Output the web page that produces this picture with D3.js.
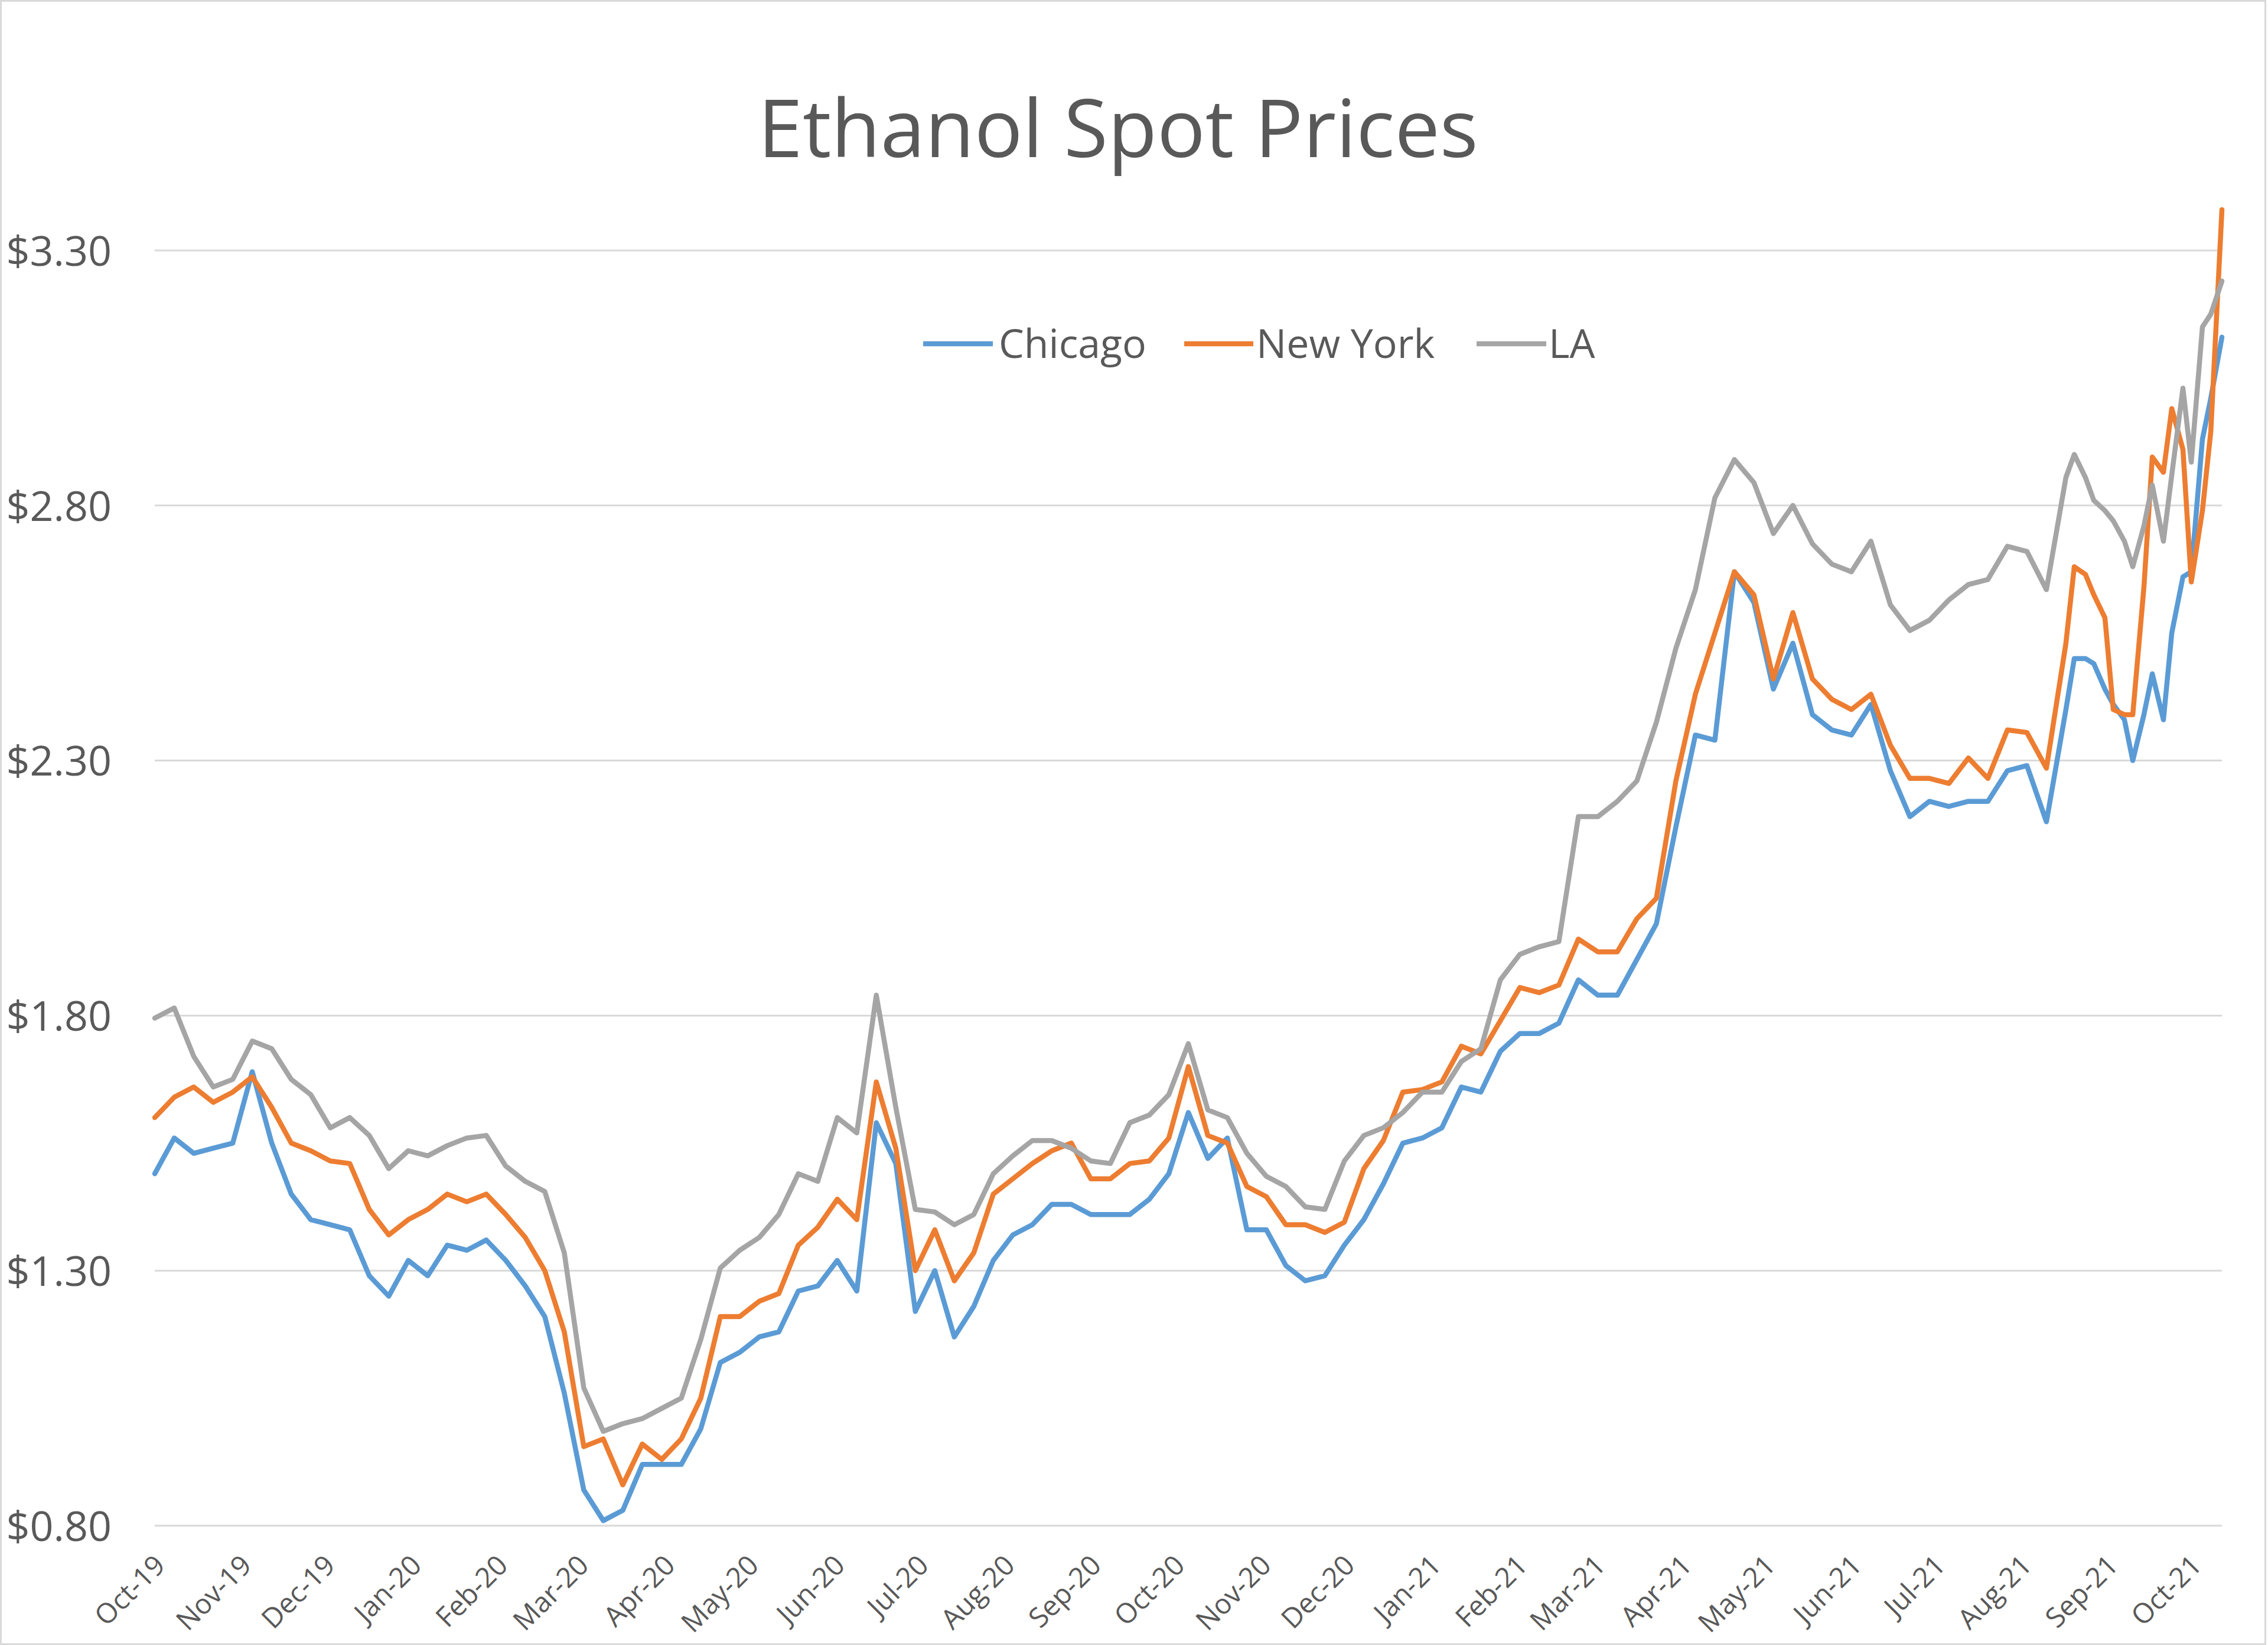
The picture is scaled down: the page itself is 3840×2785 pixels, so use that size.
<!DOCTYPE html>
<html>
<head>
<meta charset="utf-8">
<script src="https://cdn.jsdelivr.net/npm/d3@7"></script>
<style>
  html, body { margin: 0; padding: 0; background: #ffffff; }
  svg { display: block; }
  text { font-family: "Open Sans", "Noto Sans", sans-serif; fill: #595959; }
</style>
</head>
<body>
<svg id="chart" width="3840" height="2785"></svg>
<script>
// ---------- DATA ----------
const dates = [
  "2019-10-01","2019-10-08","2019-10-15","2019-10-22","2019-10-29","2019-11-05","2019-11-12","2019-11-19","2019-11-26","2019-12-03",
  "2019-12-10","2019-12-17","2019-12-24","2019-12-31","2020-01-07","2020-01-14","2020-01-21","2020-01-28","2020-02-04","2020-02-11",
  "2020-02-18","2020-02-25","2020-03-03","2020-03-10","2020-03-17","2020-03-24","2020-03-31","2020-04-07","2020-04-14","2020-04-21",
  "2020-04-28","2020-05-05","2020-05-12","2020-05-19","2020-05-26","2020-06-02","2020-06-09","2020-06-16","2020-06-23","2020-06-30",
  "2020-07-07","2020-07-14","2020-07-21","2020-07-28","2020-08-04","2020-08-11","2020-08-18","2020-08-25","2020-09-01","2020-09-08",
  "2020-09-15","2020-09-22","2020-09-29","2020-10-06","2020-10-13","2020-10-20","2020-10-27","2020-11-03","2020-11-10","2020-11-17",
  "2020-11-24","2020-12-01","2020-12-08","2020-12-15","2020-12-22","2020-12-29","2021-01-05","2021-01-12","2021-01-19","2021-01-26",
  "2021-02-02","2021-02-09","2021-02-16","2021-02-23","2021-03-02","2021-03-09","2021-03-16","2021-03-23","2021-03-30","2021-04-06",
  "2021-04-13","2021-04-20","2021-04-27","2021-05-04","2021-05-11","2021-05-18","2021-05-25","2021-06-01","2021-06-08","2021-06-15",
  "2021-06-22","2021-06-29","2021-07-06","2021-07-13","2021-07-20","2021-07-27","2021-08-03","2021-08-10",
  "2021-08-17","2021-08-20","2021-08-24","2021-08-27","2021-08-31","2021-09-03","2021-09-07","2021-09-10","2021-09-14","2021-09-17",
  "2021-09-21","2021-09-24","2021-09-28","2021-10-01","2021-10-05","2021-10-08","2021-10-12"
];

const chicago = [
  1.49,1.56,1.53,1.54,1.55,1.69,1.55,1.45,1.40,1.39,
  1.38,1.29,1.25,1.32,1.29,1.35,1.34,1.36,1.32,1.27,
  1.21,1.06,0.87,0.81,0.83,0.92,0.92,0.92,0.99,1.12,
  1.14,1.17,1.18,1.26,1.27,1.32,1.26,1.59,1.51,1.22,
  1.30,1.17,1.23,1.32,1.37,1.39,1.43,1.43,1.41,1.41,
  1.41,1.44,1.49,1.61,1.52,1.56,1.38,1.38,1.31,1.28,
  1.29,1.35,1.40,1.47,1.55,1.56,1.58,1.66,1.65,1.73,
  1.765,1.765,1.785,1.87,1.84,1.84,1.91,1.98,2.17,2.35,
  2.34,2.67,2.61,2.44,2.53,2.39,2.36,2.35,2.41,2.28,
  2.19,2.22,2.21,2.22,2.22,2.28,2.29,2.18,
  2.40,2.50,2.50,2.49,2.44,2.41,2.38,2.30,2.39,2.47,2.38,2.55,2.66,2.67,2.93,3.01,3.13
];

const newYork = [
  1.60,1.64,1.66,1.63,1.65,1.68,1.62,1.55,1.535,1.515,
  1.51,1.42,1.37,1.40,1.42,1.45,1.435,1.45,1.41,1.365,
  1.30,1.18,0.955,0.97,0.88,0.96,0.93,0.97,1.05,1.21,
  1.21,1.24,1.255,1.35,1.385,1.44,1.40,1.67,1.54,1.30,
  1.38,1.28,1.335,1.45,1.48,1.51,1.535,1.55,1.48,1.48,
  1.51,1.515,1.56,1.70,1.565,1.55,1.465,1.445,1.39,1.39,
  1.375,1.395,1.50,1.555,1.65,1.655,1.67,1.74,1.725,1.79,
  1.855,1.845,1.86,1.95,1.925,1.925,1.99,2.03,2.26,2.43,
  2.55,2.67,2.625,2.46,2.59,2.46,2.42,2.40,2.43,2.33,
  2.265,2.265,2.255,2.305,2.265,2.36,2.355,2.285,
  2.53,2.68,2.665,2.625,2.58,2.40,2.39,2.39,2.64,2.895,2.865,2.99,2.91,2.65,2.79,2.945,3.38
];

const la = [
  1.795,1.815,1.72,1.66,1.675,1.75,1.735,1.675,1.645,1.58,
  1.60,1.565,1.50,1.535,1.525,1.545,1.56,1.565,1.505,1.475,
  1.455,1.335,1.07,0.985,1.00,1.01,1.03,1.05,1.165,1.305,
  1.34,1.365,1.41,1.49,1.475,1.60,1.57,1.84,1.62,1.42,
  1.415,1.39,1.41,1.49,1.525,1.555,1.555,1.54,1.515,1.51,
  1.59,1.605,1.645,1.745,1.615,1.60,1.53,1.485,1.465,1.425,
  1.42,1.515,1.565,1.58,1.61,1.65,1.65,1.71,1.735,1.87,
  1.92,1.935,1.945,2.19,2.19,2.22,2.26,2.375,2.52,2.635,
  2.815,2.89,2.845,2.745,2.80,2.725,2.685,2.67,2.73,2.605,
  2.555,2.575,2.615,2.645,2.655,2.72,2.71,2.635,
  2.855,2.90,2.855,2.81,2.79,2.77,2.73,2.68,2.76,2.84,2.73,2.86,3.03,2.885,3.15,3.175,3.24
];

const seriesNames = ["Chicago", "New York", "LA"];
const yTickValues = [0.80, 1.30, 1.80, 2.30, 2.80, 3.30];
const titleText = "Ethanol Spot Prices";

// ---------- STYLE / LAYOUT ----------
const W = 3840, H = 2785;
const plot = { left: 262, right: 3762, top: 424, bottom: 2583 };
const colors = ["#5B9BD5", "#ED7D31", "#A5A5A5"];

const parse = d3.timeParse("%Y-%m-%d");
const dateObjs = dates.map(parse);
const seriesValues = [chicago, newYork, la];

const svg = d3.select("#chart");

// chart border
svg.append("rect")
  .attr("x", 1.5).attr("y", 1.5)
  .attr("width", W - 6).attr("height", H - 3)
  .attr("fill", "#ffffff")
  .attr("stroke", "#D9D9D9").attr("stroke-width", 3);

const x = d3.scaleTime()
  .domain([dateObjs[0], dateObjs[dateObjs.length - 1]])
  .range([plot.left, plot.right]);

const y = d3.scaleLinear()
  .domain([0.8, 3.3])
  .range([plot.bottom, plot.top]);

// gridlines
svg.append("g")
  .selectAll("line")
  .data(yTickValues)
  .join("line")
  .attr("x1", plot.left).attr("x2", plot.right)
  .attr("y1", d => y(d)).attr("y2", d => y(d))
  .attr("stroke", "#D9D9D9").attr("stroke-width", 3);

// y axis labels
const yAxis = d3.axisLeft(y)
  .tickValues(yTickValues)
  .tickFormat(d3.format("$.2f"))
  .tickSize(0)
  .tickPadding(73);
const gy = svg.append("g").attr("transform", `translate(${plot.left},0)`).call(yAxis);
gy.select(".domain").remove();
gy.selectAll("text")
  .attr("font-family", "'Open Sans', 'Noto Sans', sans-serif")
  .attr("font-size", 70)
  .attr("fill", "#595959")
  .attr("dy", "0.36em");

// x axis labels
const xAxis = d3.axisBottom(x)
  .ticks(d3.timeMonth.every(1))
  .tickFormat(d3.timeFormat("%b-%y"))
  .tickSize(0);
const gx = svg.append("g").attr("transform", `translate(0,${plot.bottom})`).call(xAxis);
gx.select(".domain").remove();
gx.selectAll("text")
  .attr("font-family", "'Open Sans', 'Noto Sans', sans-serif")
  .attr("font-size", 47)
  .attr("fill", "#595959")
  .attr("x", 0).attr("y", 0)
  .attr("dy", "0.72em")
  .attr("text-anchor", "end")
  .attr("transform", "translate(-4,46) rotate(-45)");

// lines
const line = d3.line()
  .x((d, i) => x(dateObjs[i]))
  .y(d => y(d));

seriesValues.forEach((vals, k) => {
  svg.append("path")
    .datum(vals)
    .attr("d", line)
    .attr("fill", "none")
    .attr("stroke", colors[k])
    .attr("stroke-width", 8.5)
    .attr("stroke-linejoin", "round")
    .attr("stroke-linecap", "round");
});

// title
svg.append("text")
  .attr("x", 1893).attr("y", 266)
  .attr("text-anchor", "middle")
  .attr("font-size", 136)
  .attr("fill", "#595959")
  .text(titleText);

// legend
const legendItems = [
  { x1: 1563, x2: 1681, tx: 1691 },
  { x1: 2005, x2: 2122, tx: 2127 },
  { x1: 2500, x2: 2618, tx: 2622 }
];
const legendY = 582;
const lg = svg.append("g");
legendItems.forEach((it, k) => {
  lg.append("line")
    .attr("x1", it.x1).attr("x2", it.x2)
    .attr("y1", legendY).attr("y2", legendY)
    .attr("stroke", colors[k]).attr("stroke-width", 8.5);
  lg.append("text")
    .attr("x", it.tx).attr("y", legendY)
    .attr("dy", "0.36em")
    .attr("font-size", 68)
    .attr("fill", "#595959")
    .text(seriesNames[k]);
});
</script>
</body>
</html>
